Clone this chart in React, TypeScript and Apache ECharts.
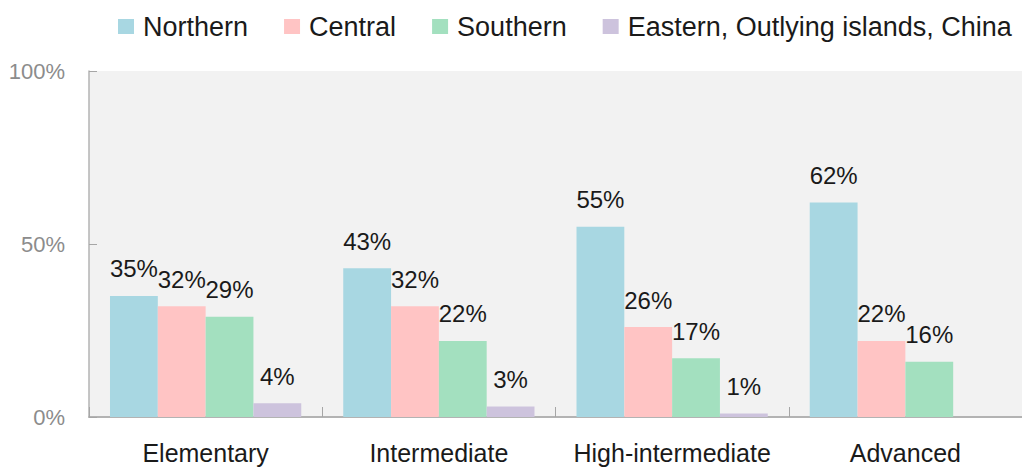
import React, { useEffect, useRef } from "react";
import * as echarts from "echarts";

const categories = ["Elementary", "Intermediate", "High-intermediate", "Advanced"];
const seriesNames = ["Northern", "Central", "Southern", "Eastern, Outlying islands, China"];
const northern = [35, 43, 55, 62];
const central = [32, 32, 26, 22];
const southern = [29, 22, 17, 16];
const eastern: (number | null)[] = [4, 3, 1, null];
const colors = ["#a8d7e2", "#ffc4c4", "#a3e0bf", "#cdc3dd"];
const yTicks = [0, 50, 100];

const FONT = "'Liberation Sans', Arial, sans-serif";

export default function App() {
  const ref = useRef<HTMLDivElement>(null);
  useEffect(() => {
    if (!ref.current) return;
    const chart = echarts.init(ref.current, undefined, { renderer: "svg" });
    const values = [northern, central, southern, eastern];
    chart.setOption({
      animation: false,
      textStyle: { fontFamily: FONT },
      legend: {
        top: 8,
        left: 113,
        itemWidth: 16,
        itemHeight: 15,
        itemGap: 36,
        icon: "rect",
        textStyle: { fontSize: 27, color: "#1a1a1a", fontFamily: FONT, padding: [0, 0, 0, 4] },
        data: seriesNames,
      },
      grid: {
        left: 89,
        top: 71,
        width: 944,
        height: 346,
        show: true,
        backgroundColor: "#f2f2f2",
        borderWidth: 0,
        containLabel: false,
      },
      xAxis: {
        type: "category",
        data: categories,
        axisLine: { show: true, lineStyle: { color: "#b3b3b3", width: 2 } },
        axisTick: { show: true, inside: true, length: 10, alignWithLabel: false, lineStyle: { color: "#a6a6a6", width: 1 } },
        axisLabel: { interval: 0, fontSize: 25, color: "#1a1a1a", margin: 23, fontFamily: FONT },
        splitLine: { show: false },
      },
      yAxis: {
        type: "value",
        min: 0,
        max: 100,
        interval: 50,
        axisLine: { show: true, lineStyle: { color: "#b3b3b3", width: 1.5 } },
        axisTick: { show: true, inside: true, length: 8, lineStyle: { color: "#a6a6a6" } },
        axisLabel: {
          fontSize: 22,
          color: "#8c8c8c",
          margin: 24,
          fontFamily: FONT,
          formatter: (v: number) => (yTicks.includes(v) ? v + "%" : ""),
        },
        splitLine: { show: false },
      },
      series: seriesNames.map((name, i) => ({
        name,
        type: "bar",
        data: values[i],
        barGap: "0%",
        barCategoryGap: "18%",
        itemStyle: { color: colors[i] },
        label: {
          show: true,
          position: "top",
          distance: 15,
          fontSize: 24,
          color: "#1a1a1a",
          fontFamily: FONT,
          formatter: (p: any) => (p.value == null ? "" : p.value + "%"),
        },
      })),
    });
    return () => chart.dispose();
  }, []);
  return <div ref={ref} style={{ width: 1022, height: 468, position: "absolute", left: 0, top: 0 }} />;
}
